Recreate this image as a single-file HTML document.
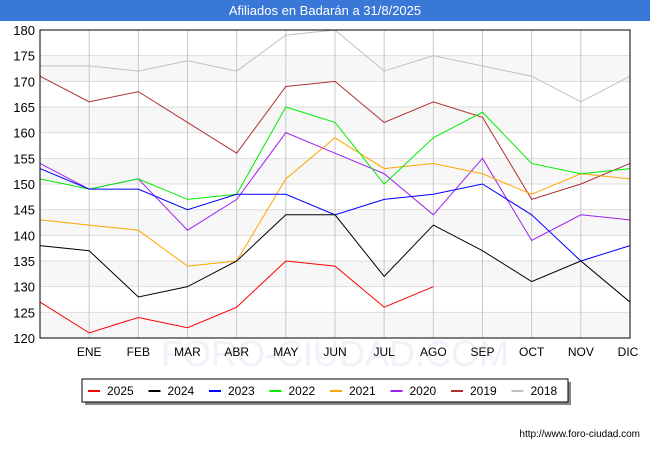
<!DOCTYPE html>
<html><head><meta charset="utf-8"><style>
body{margin:0;background:#fff;font-family:"Liberation Sans","DejaVu Sans",sans-serif;}
#wrap{position:relative;width:650px;height:450px;overflow:hidden;}
#title{position:absolute;left:0;top:0;width:650px;height:21px;background:#3a78d8;color:#fff;font-size:13px;text-align:center;line-height:21px;}
</style></head><body>
<div id="wrap">
<div id="title">Afiliados en Badarán a 31/8/2025</div>
<svg id="chart" width="650" height="450" style="position:absolute;left:0;top:0"></svg>
</div>
<script>
const categories=["","ENE","FEB","MAR","ABR","MAY","JUN","JUL","AGO","SEP","OCT","NOV","DIC"];
const yTicks=[120,125,130,135,140,145,150,155,160,165,170,175,180];
const seriesNames=["2025","2024","2023","2022","2021","2020","2019","2018"];
const seriesColors=["#ff0000","#000000","#0000ff","#00ee00","#ffa500","#a020f0","#b03030","#c0c0c0"];
const s2025=[127,121,124,122,126,135,134,126,130];
const s2024=[138,137,128,130,135,144,144,132,142,137,131,135,127];
const s2023=[153,149,149,145,148,148,144,147,148,150,144,135,138];
const s2022=[151,149,151,147,148,165,162,150,159,164,154,152,153];
const s2021=[143,142,141,134,135,151,159,153,154,152,148,152,151];
const s2020=[154,149,151,141,147,160,156,152,144,155,139,144,143];
const s2019=[171,166,168,162,156,169,170,162,166,163,147,150,154];
const s2018=[173,173,172,174,172,179,180,172,175,173,171,166,171];
const seriesData=[s2025,s2024,s2023,s2022,s2021,s2020,s2019,s2018];

const NS="http://www.w3.org/2000/svg";
const svg=document.getElementById('chart');
const L=40,R=630,T=30,B=338,ymin=120,ymax=180;
const x=i=>L+(R-L)*i/(categories.length-1);
const y=v=>B-(B-T)*(v-ymin)/(ymax-ymin);
function mk(t,a){const e=document.createElementNS(NS,t);for(const k in a)e.setAttribute(k,a[k]);svg.appendChild(e);return e;}
for(let v=120;v<180;v+=10){const r=mk('rect',{x:L,y:y(v+5),width:R-L,height:y(v)-y(v+5),fill:'#f7f7f7'});

}
yTicks.forEach(v=>{const l=mk('line',{x1:L,x2:R,y1:y(v),y2:y(v),stroke:'#dddddd','stroke-width':1});


const t=mk('text',{x:L-5,y:y(v)+5,'text-anchor':'end','font-size':13,fill:'#000'});t.textContent=v;

});
const wm=mk('text',{x:335,y:366,'text-anchor':'middle','font-size':36,fill:'#f0f2fa'});wm.textContent='FORO-CIUDAD.COM';


categories.forEach((c,i)=>{if(i>0){const l=mk('line',{x1:x(i),x2:x(i),y1:T,y2:B,stroke:'#c8c8c8','stroke-width':1});


const t=mk('text',{x:x(i)-(i==12?2:0),y:356,'text-anchor':'middle','font-size':12,fill:'#000'});t.textContent=c;

}});
for(let k=seriesData.length-1;k>=0;k--){const d=seriesData[k];
const p=mk('polyline',{points:d.map((v,i)=>x(i)+','+y(v)).join(' '),fill:'none',stroke:seriesColors[k],'stroke-width':1});

}
const fr=mk('rect',{x:L,y:T,width:R-L,height:B-T,fill:'none',stroke:'#000','stroke-width':1});


const sh=mk('rect',{x:85,y:382,width:486,height:23,fill:'#888'});


const lb=mk('rect',{x:82,y:379,width:486,height:23,fill:'#fff',stroke:'#000','stroke-width':1});


seriesNames.forEach((n,k)=>{const lx=88+k*60.5;
const l=mk('line',{x1:lx,x2:lx+12,y1:391,y2:391,stroke:seriesColors[k],'stroke-width':2});


const t=mk('text',{x:lx+19,y:395,'font-size':12,fill:'#000'});t.textContent=n;

});
const u=mk('text',{x:640,y:437,'text-anchor':'end','font-size':10,fill:'#000'});u.textContent='http://www.foro-ciudad.com';


</script>
</body></html>
